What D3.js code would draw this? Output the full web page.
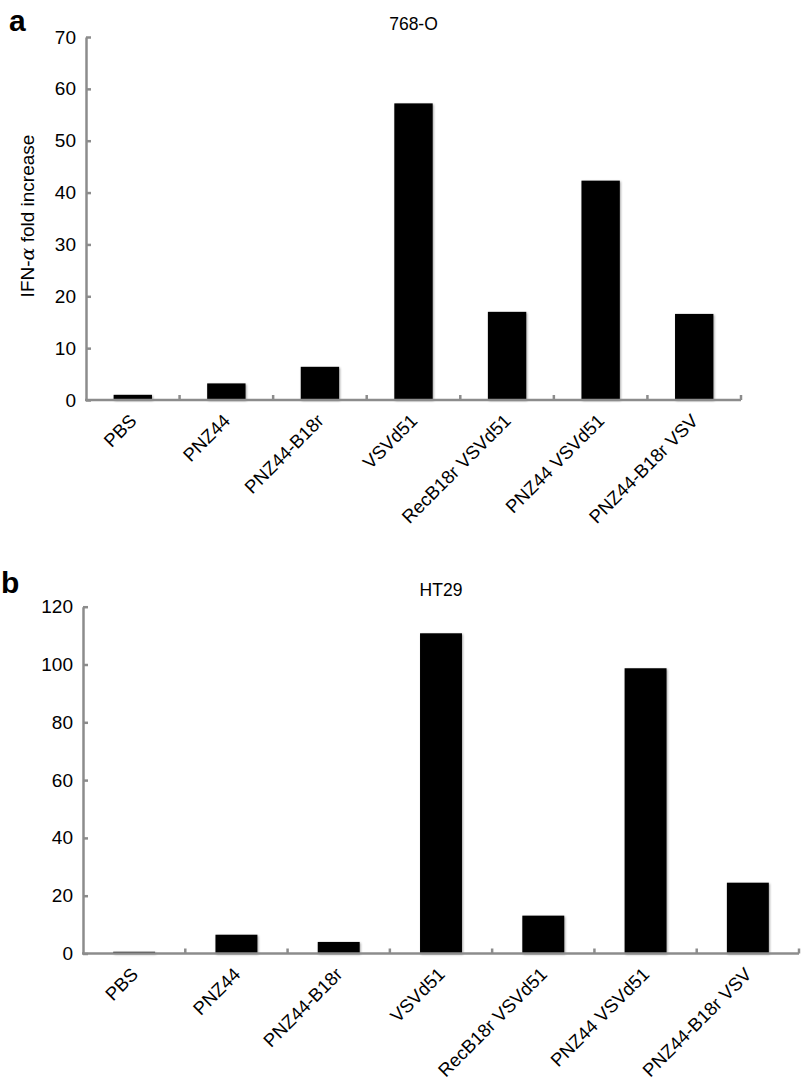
<!DOCTYPE html>
<html>
<head>
<meta charset="utf-8">
<script src="https://cdn.jsdelivr.net/npm/d3@7"></script>
<style>
  html, body { margin: 0; padding: 0; background: #fff; }
  svg { display: block; font-family: "Liberation Sans", Arial, Helvetica, sans-serif; }
</style>
</head>
<body>
<svg id="chart" width="802" height="1088"></svg>
<script>
const categories = ["PBS", "PNZ44", "PNZ44-B18r", "VSVd51", "RecB18r VSVd51", "PNZ44 VSVd51", "PNZ44-B18r VSV"];
const valuesA = [1.0, 3.2, 6.4, 57.2, 17.0, 42.3, 16.6];
const valuesB = [0.6, 6.5, 4.0, 110.8, 13.1, 98.7, 24.5];
const ticksA = [0, 10, 20, 30, 40, 50, 60, 70];
const ticksB = [0, 20, 40, 60, 80, 100, 120];

const svg = d3.select("#chart");
const axisColor = "#8c8c8c";

const defs = svg.append("defs");
const f = defs.append("filter").attr("id", "shadow").attr("x", "-20%").attr("y", "-20%").attr("width", "140%").attr("height", "140%");
f.append("feDropShadow").attr("dx", 1).attr("dy", 1).attr("stdDeviation", 0.8).attr("flood-color", "#000").attr("flood-opacity", 0.35);

function panel(cfg) {
  const g = svg.append("g");
  const x = d3.scaleBand().domain(categories).range([cfg.x0, cfg.x1]).paddingInner(0.59).paddingOuter(0.295);
  const y = d3.scaleLinear().domain([0, cfg.ymax]).range([cfg.y0, cfg.ytop]);
  const step = x.step();

  // panel letter
  g.append("text").attr("x", cfg.letterX).attr("y", cfg.letterY)
    .attr("font-size", 30).attr("font-weight", "bold").attr("fill", "#000").text(cfg.letter);

  // title
  g.append("text").attr("x", (cfg.x0 + cfg.x1) / 2).attr("y", cfg.titleY)
    .attr("text-anchor", "middle").attr("font-size", 17.5).attr("fill", "#000").text(cfg.title);

  // bars
  g.append("g").attr("filter", "url(#shadow)").selectAll("rect").data(cfg.values).join("rect")
    .attr("x", (d, i) => x(categories[i]))
    .attr("width", x.bandwidth())
    .attr("y", d => y(d))
    .attr("height", d => y(0) - y(d))
    .attr("fill", "#000");

  // y axis
  const ya = g.append("g").attr("transform", `translate(${cfg.x0},0)`)
    .call(d3.axisLeft(y).tickValues(cfg.ticks).tickSize(-5).tickSizeOuter(0).tickPadding(10).tickFormat(d3.format("d")));
  ya.select(".domain").attr("stroke", axisColor).attr("stroke-width", 2.5);
  ya.selectAll(".tick line").attr("stroke", axisColor).attr("stroke-width", 2.5);
  ya.selectAll(".tick text").attr("font-size", 19).attr("fill", "#000")
    .attr("font-family", "'Liberation Sans', Arial, sans-serif");

  // x axis line + boundary ticks
  const xa = g.append("g");
  xa.append("line").attr("x1", cfg.x0 - 1).attr("x2", cfg.x1).attr("y1", cfg.y0).attr("y2", cfg.y0)
    .attr("stroke", axisColor).attr("stroke-width", 2.5);
  xa.selectAll("line.bt").data(categories).join("line").attr("class", "bt")
    .attr("x1", (d) => x(d) + x.bandwidth() / 2 + step / 2)
    .attr("x2", (d) => x(d) + x.bandwidth() / 2 + step / 2)
    .attr("y1", cfg.y0).attr("y2", cfg.y0 - 5)
    .attr("stroke", axisColor).attr("stroke-width", 2.5);

  // x labels
  g.append("g").selectAll("text").data(categories).join("text")
    .attr("transform", d => `translate(${x(d) + x.bandwidth() / 2 + 5},${cfg.y0 + 22}) rotate(-45)`)
    .attr("text-anchor", "end")
    .attr("font-size", 18.5).attr("fill", "#000").text(d => d);

  // y label
  if (cfg.ylabel) {
    const t = g.append("text")
      .attr("transform", `translate(${cfg.ylabelX},${cfg.ylabelY}) rotate(-90)`)
      .attr("text-anchor", "middle").attr("font-size", 19).attr("fill", "#000");
    t.append("tspan").text("IFN-");
    t.append("tspan").attr("font-style", "italic").attr("font-family", "'DejaVu Serif', serif").text("α");
    t.append("tspan").text(" fold increase");
  }
}

panel({ letter: "a", letterX: 9, letterY: 31, title: "768-O", titleY: 30,
  x0: 86, x1: 741, y0: 400, ytop: 37, ymax: 70, ticks: ticksA, values: valuesA,
  ylabel: true, ylabelX: 34, ylabelY: 216 });

panel({ letter: "b", letterX: 1, letterY: 593, title: "HT29", titleY: 596,
  x0: 83, x1: 799, y0: 953.5, ytop: 606.7, ymax: 120, ticks: ticksB, values: valuesB,
  ylabel: false });
</script>
</body>
</html>
